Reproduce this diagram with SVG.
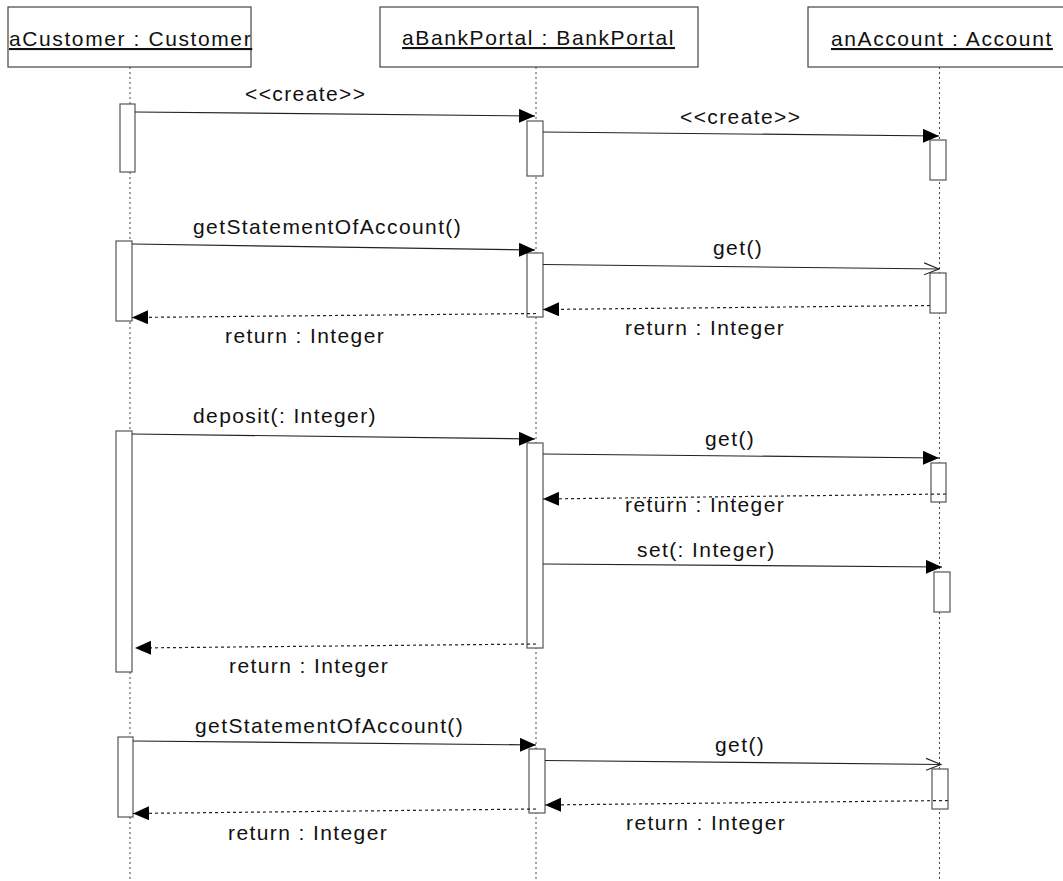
<svg xmlns="http://www.w3.org/2000/svg" width="1063" height="881" viewBox="0 0 1063 881">
<style>
.hdr{fill:#fff;stroke:#444;stroke-width:1.2}
.ht{font-family:"Liberation Sans",Arial,sans-serif;font-size:21px;letter-spacing:1.6px;fill:#111;text-decoration:underline}
.lbl{font-family:"Liberation Sans",Arial,sans-serif;font-size:21px;letter-spacing:1.4px;fill:#111}
.life{stroke:#444;stroke-width:1;stroke-dasharray:2,3;fill:none}
.act{fill:#fff;stroke:#555;stroke-width:1.2}
.msg{stroke:#222;stroke-width:1.2;fill:none}
.ret{stroke:#222;stroke-width:1.2;fill:none;stroke-dasharray:3,3}
</style>
<defs>
<marker id="fill" markerUnits="userSpaceOnUse" markerWidth="18" markerHeight="16" refX="16" refY="7" orient="auto">
<path d="M0,0 L16,7 L0,14 z" fill="#000"/>
</marker>
<marker id="open" markerUnits="userSpaceOnUse" markerWidth="18" markerHeight="16" refX="15" refY="7" orient="auto">
<path d="M0,1 L15,7 L0,13" fill="none" stroke="#222" stroke-width="1.1"/>
</marker>
</defs>
<rect width="1063" height="881" fill="#fff"/>
<g id="lifelines">
<line class="life" x1="130" y1="67" x2="130" y2="880"/>
<line class="life" x1="536" y1="67" x2="536" y2="880"/>
<line class="life" x1="939.5" y1="67" x2="939.5" y2="880"/>
</g>
<g id="aCustomer">
<rect class="hdr" x="8" y="7" width="243" height="60"/>
<text class="ht" x="9" y="46">aCustomer : Customer</text>
</g>
<g id="aBankPortal">
<rect class="hdr" x="380" y="7" width="318" height="60"/>
<text class="ht" x="402" y="45">aBankPortal : BankPortal</text>
</g>
<g id="anAccount">
<rect class="hdr" x="808" y="7" width="270" height="60"/>
<text class="ht" x="831" y="46">anAccount : Account</text>
</g>
<g id="activations">
<rect class="act" x="120" y="104" width="15" height="68"/>
<rect class="act" x="527" y="121" width="16" height="55"/>
<rect class="act" x="930" y="140" width="16" height="40"/>
<rect class="act" x="116" y="241" width="16" height="80"/>
<rect class="act" x="527" y="253" width="16" height="64"/>
<rect class="act" x="930" y="273" width="16" height="40"/>
<rect class="act" x="116" y="431" width="16" height="241"/>
<rect class="act" x="527" y="443" width="16" height="205"/>
<rect class="act" x="931" y="463" width="15" height="39"/>
<rect class="act" x="934" y="572" width="16" height="40"/>
<rect class="act" x="118" y="737" width="15" height="80"/>
<rect class="act" x="529" y="749" width="16" height="64"/>
<rect class="act" x="932" y="769" width="16" height="40"/>
</g>
<g id="connectors">
<line class="msg" x1="135" y1="112" x2="535" y2="116" marker-end="url(#fill)"/>
<line class="msg" x1="543" y1="132" x2="939" y2="136" marker-end="url(#fill)"/>
<line class="msg" x1="132" y1="244" x2="535" y2="250" marker-end="url(#fill)"/>
<line class="msg" x1="543" y1="264.5" x2="939" y2="269" marker-end="url(#open)"/>
<line class="ret" x1="930" y1="305.5" x2="543" y2="309.5" marker-end="url(#fill)"/>
<line class="ret" x1="536" y1="313.5" x2="132" y2="317.5" marker-end="url(#fill)"/>
<line class="msg" x1="132" y1="434" x2="535" y2="439" marker-end="url(#fill)"/>
<line class="msg" x1="543" y1="454" x2="939" y2="458" marker-end="url(#fill)"/>
<line class="ret" x1="946" y1="494" x2="543" y2="499" marker-end="url(#fill)"/>
<line class="msg" x1="543" y1="564" x2="942" y2="567" marker-end="url(#fill)"/>
<line class="ret" x1="536" y1="644" x2="135" y2="648" marker-end="url(#fill)"/>
<line class="msg" x1="133" y1="741" x2="536" y2="745" marker-end="url(#fill)"/>
<line class="msg" x1="545" y1="760.5" x2="941" y2="764.5" marker-end="url(#open)"/>
<line class="ret" x1="948" y1="800.5" x2="545" y2="805" marker-end="url(#fill)"/>
<line class="ret" x1="536" y1="809" x2="133" y2="813.5" marker-end="url(#fill)"/>
</g>
<g id="labels">
<text class="lbl" x="245" y="101">&lt;&lt;create&gt;&gt;</text>
<text class="lbl" x="680" y="124">&lt;&lt;create&gt;&gt;</text>
<text class="lbl" x="193" y="234">getStatementOfAccount()</text>
<text class="lbl" x="713" y="255">get()</text>
<text class="lbl" x="625" y="335">return : Integer</text>
<text class="lbl" x="225" y="343">return : Integer</text>
<text class="lbl" x="193" y="423">deposit(: Integer)</text>
<text class="lbl" x="705" y="446">get()</text>
<text class="lbl" x="625" y="512">return : Integer</text>
<text class="lbl" x="637" y="557">set(: Integer)</text>
<text class="lbl" x="229" y="673">return : Integer</text>
<text class="lbl" x="195" y="733">getStatementOfAccount()</text>
<text class="lbl" x="715" y="752">get()</text>
<text class="lbl" x="626" y="830">return : Integer</text>
<text class="lbl" x="228" y="840">return : Integer</text>
</g>
</svg>
